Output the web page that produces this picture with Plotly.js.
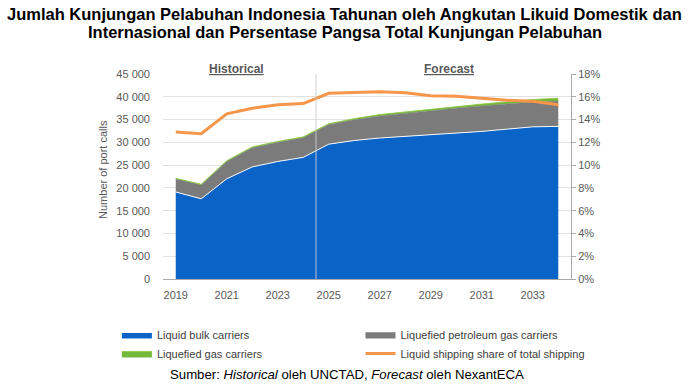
<!DOCTYPE html>
<html>
<head>
<meta charset="utf-8">
<script src="https://cdn.plot.ly/plotly-3.0.1.min.js"></script>
<style>html,body{margin:0;padding:0;background:#fff;}#chart{width:695px;height:391px;}</style>
</head>
<body>
<div id="chart"></div>
<script>
const years = [2019,2020,2021,2022,2023,2024,2025,2026,2027,2028,2029,2030,2031,2032,2033,2034];
const liquidBulk = [19100,17600,22000,24600,25800,26700,29600,30400,30950,31300,31600,31950,32400,32900,33400,33500];
const lpgCarriers = [2850,3050,3800,4200,4200,4300,4300,4550,4850,5100,5250,5550,5600,5550,5450,5550];
const lngCarriers = [150,150,150,200,200,200,200,250,300,300,350,400,400,450,550,650];
const liquidShare = [12.9,12.75,14.5,15.0,15.3,15.4,16.3,16.35,16.45,16.35,16.1,16.05,15.85,15.7,15.6,15.3];
const xTicks = [2019,2021,2023,2025,2027,2029,2031,2033];
const seriesNames = ["Liquid bulk carriers","Liquefied petroleum gas carriers","Liquefied gas carriers","Liquid shipping share of total shipping"];
const titleLines = ["Jumlah Kunjungan Pelabuhan Indonesia Tahunan oleh Angkutan Likuid Domestik dan",
                    "Internasional dan Persentase Pangsa Total Kunjungan Pelabuhan"];
const dividerYear = 2024.5;

const FONT = "Liberation Sans, Arial, sans-serif";

const traces = [
  {x: years, y: liquidBulk, name: seriesNames[0], type: "scatter", mode: "lines", stackgroup: "one",
   fillcolor: "#0A64C8", line: {color: "#F2F6FB", width: 1}, legend: "legend"},
  {x: years, y: lpgCarriers, name: seriesNames[1], type: "scatter", mode: "lines", stackgroup: "one",
   fillcolor: "#7B7B7B", line: {color: "#7B7B7B", width: 0.5}, legend: "legend2"},
  {x: years, y: lngCarriers, name: seriesNames[2], type: "scatter", mode: "lines", stackgroup: "one",
   fillcolor: "#74B83C", line: {color: "#8CC63F", width: 0.8}, legend: "legend"},
  {x: years, y: liquidShare, name: seriesNames[3], type: "scatter", mode: "lines", yaxis: "y2",
   line: {color: "#F5964B", width: 3}, legend: "legend2"}
];

const legendBase = {
  orientation: "v", yanchor: "top", y: -0.2, xanchor: "left", itemwidth: 30,
  font: {size: 11, color: "#404040"}, traceorder: "normal", bgcolor: "rgba(0,0,0,0)"
};

const layout = {
  width: 695, height: 391,
  margin: {l: 163, r: 124, t: 74, b: 112, autoexpand: false},
  paper_bgcolor: "#fff", plot_bgcolor: "#fff",
  separators: ". ",
  font: {family: FONT, size: 11, color: "#595959"},
  showlegend: true,
  xaxis: {
    range: [2018.5, 2034.5], tickvals: xTicks, ticktext: xTicks.map(String),
    showgrid: false, zeroline: false, showline: true, linecolor: "#A9A9A9", linewidth: 1,
    ticks: "", ticklabelstandoff: 6, fixedrange: true
  },
  yaxis: {
    range: [0, 45000], dtick: 5000, tickformat: ",", showgrid: true, gridcolor: "#E2E2E2",
    zeroline: false, showline: false, ticks: "", ticklabelstandoff: 12
  },
  yaxis2: {
    overlaying: "y", side: "right", range: [0, 18], dtick: 2, ticksuffix: "%",
    showgrid: false, zeroline: false, showline: true, linecolor: "#A9A9A9", linewidth: 1,
    ticks: "outside", ticklen: 4, tickcolor: "#A9A9A9"
  },
  legend: Object.assign({}, legendBase, {x: -0.113}),
  legend2: Object.assign({}, legendBase, {x: 0.484}),
  shapes: [
    {type: "line", xref: "x", yref: "paper", x0: dividerYear, x1: dividerYear, y0: 0, y1: 1,
     line: {color: "rgba(205,205,205,0.9)", width: 1}, layer: "above"}
  ],
  annotations: [
    {text: "<b>" + titleLines[0] + "</b>", xref: "paper", yref: "paper", x: 0.446, y: 1.2927,
     xanchor: "center", yanchor: "middle", showarrow: false, font: {size: 16.5, color: "#000"}},
    {text: "<b>" + titleLines[1] + "</b>", xref: "paper", yref: "paper", x: 0.446, y: 1.2049,
     xanchor: "center", yanchor: "middle", showarrow: false, font: {size: 16.5, color: "#000"}},
    {text: "Number of port calls", xref: "paper", yref: "paper", x: -0.147, y: 0.532,
     textangle: -90, xanchor: "center", yanchor: "middle", showarrow: false,
     font: {size: 11, color: "#595959"}},
    {text: "<u><b>Historical</b></u>", xref: "x", yref: "paper", x: 2021.4, y: 1.068,
     showarrow: false, font: {size: 12, color: "#595959"}},
    {text: "<u><b>Forecast</b></u>", xref: "x", yref: "paper", x: 2029.7, y: 1.068,
     showarrow: false, font: {size: 12, color: "#595959"}},
    {text: "Sumber: <i>Historical</i> oleh UNCTAD, <i>Forecast</i> oleh NexantECA", xref: "paper", yref: "paper",
     x: 0.451, y: -0.468, xanchor: "center", yanchor: "middle", showarrow: false,
     font: {size: 13.2, color: "#000"}}
  ]
};

Plotly.newPlot("chart", traces, layout, {displayModeBar: false, staticPlot: true});
</script>
</body>
</html>
